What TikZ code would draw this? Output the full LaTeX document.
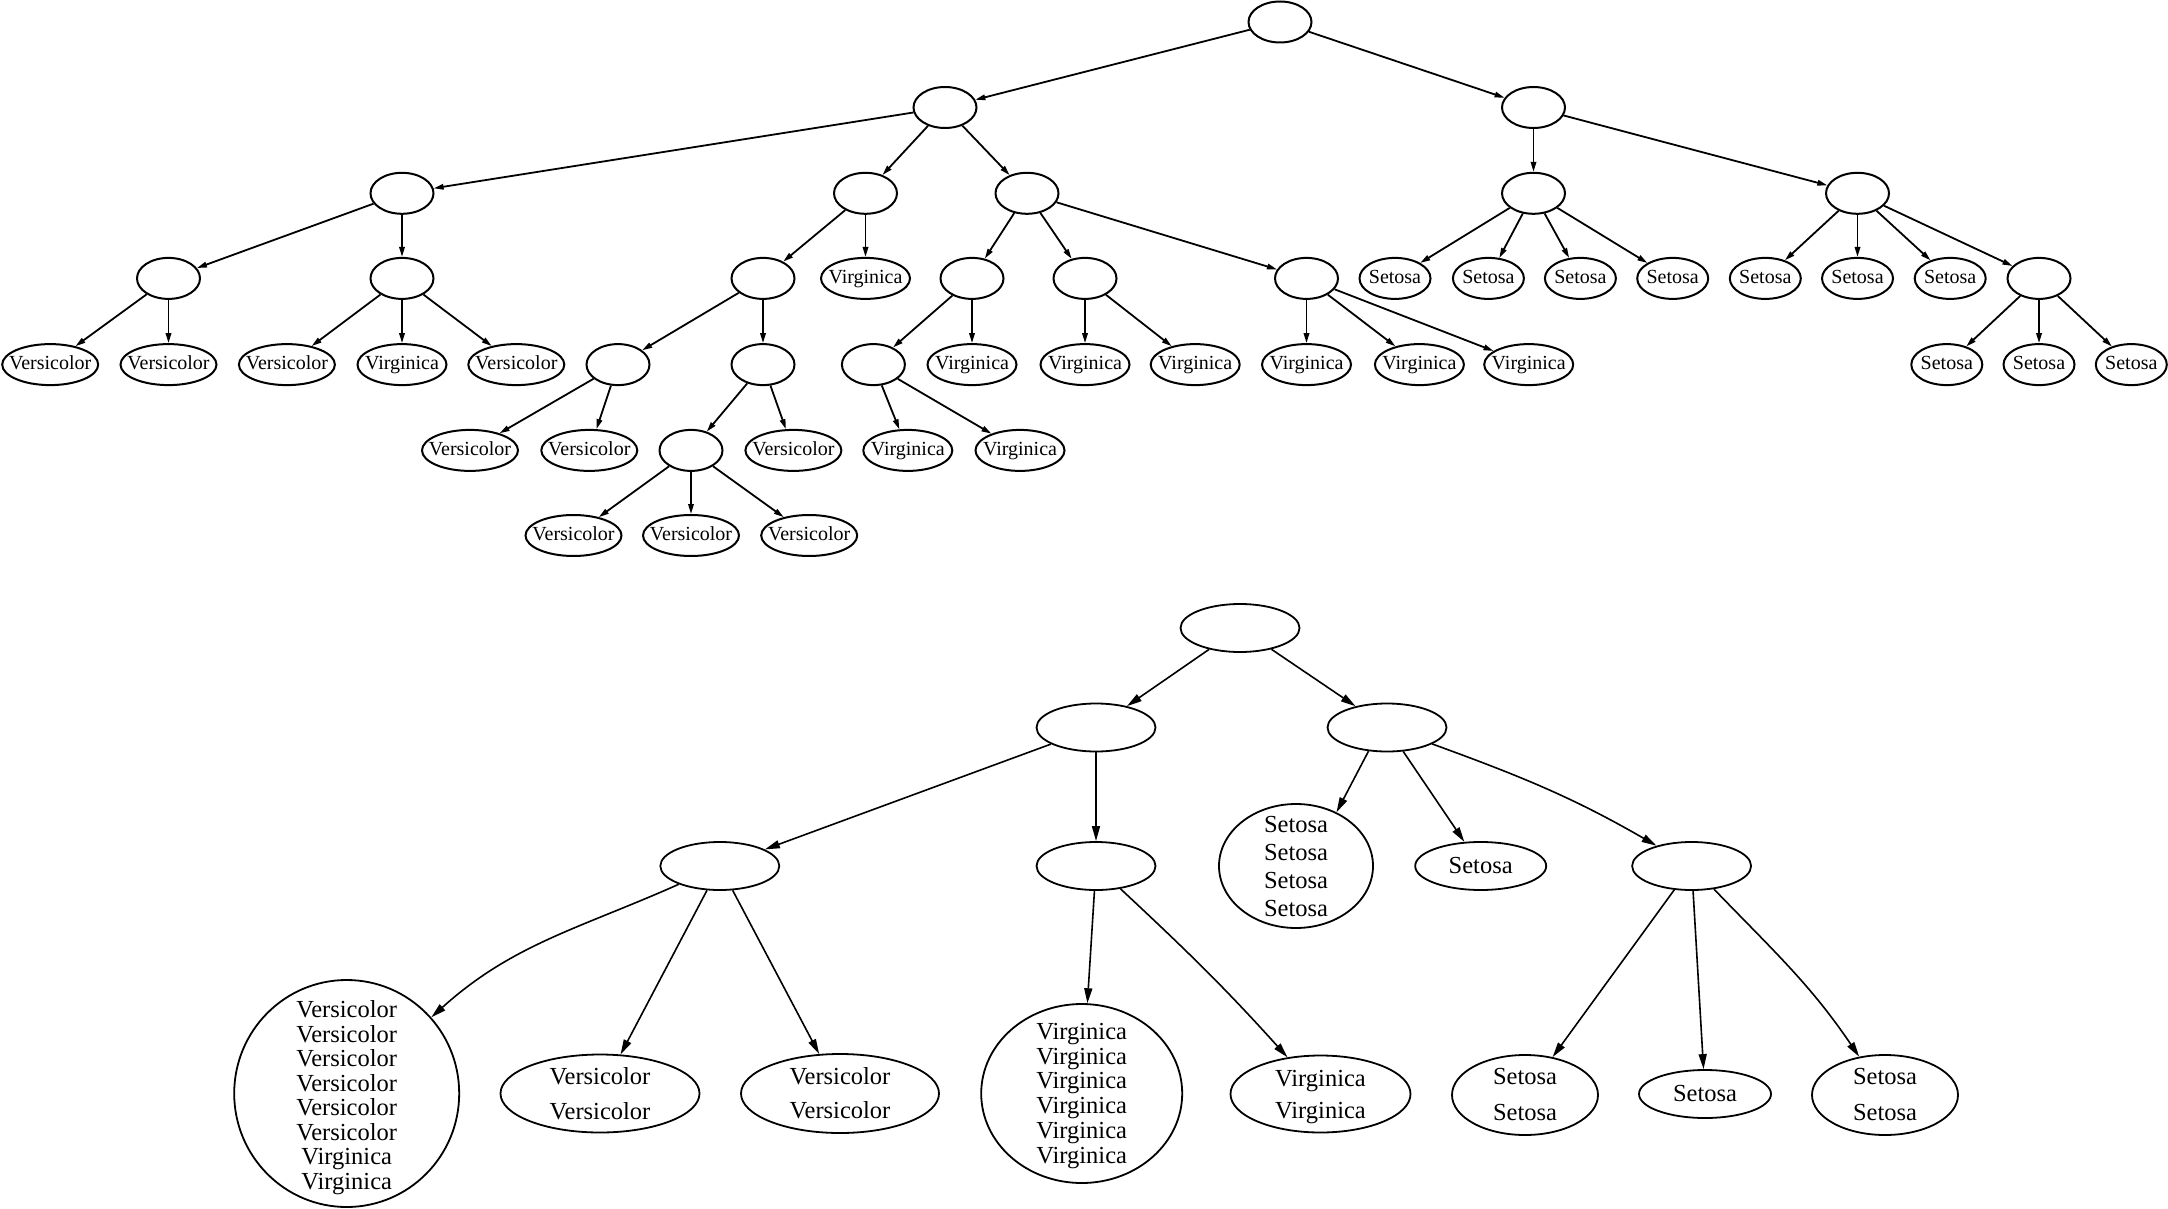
\documentclass[tikz,border=0pt]{standalone}
\usepackage{fontspec}
\setmainfont{Liberation Serif}
\usetikzlibrary{shapes.geometric,arrows.meta}
\newcommand\tx[3]{\raisebox{#1}{\makebox[0pt]{\vtop{\baselineskip=#2\relax\lineskiplimit=-100pt\halign{\hfil##\hfil\cr#3\crcr}}}}}
\newcommand\one[1]{\tx{-4.6pt}{24pt}{#1}}
\newcommand\bone[1]{\tx{-7pt}{29pt}{#1}}
\tikzset{
  topn/.style={ellipse, draw, line width=2pt, inner sep=0pt, text height=0pt, text depth=0pt,
    font=\fontsize{20}{24}\selectfont, minimum height=41pt},
  ti/.style={topn, minimum width=63pt},
  tvc/.style={topn, minimum width=96pt},
  tvg/.style={topn, minimum width=89pt},
  tse/.style={topn, minimum width=71pt},
  botn/.style={ellipse, draw, line width=1.8pt, inner sep=0pt, text height=0pt, text depth=0pt,
    font=\fontsize{24.5}{29}\selectfont},
  bi/.style={botn, minimum width=119pt, minimum height=48pt},
  tarr/.style={-{Triangle[length=10pt,width=5.5pt]}, line width=1.8pt},
  barr/.style={-{Triangle[length=15pt,width=8pt]}, line width=1.6pt},
}
\begin{document}
\begin{tikzpicture}[x=1pt,y=-1pt]
\useasboundingbox (0,0) rectangle (2168,1209);
% ---------------- top tree ----------------
\node[ti] (t0) at (1280,22) {};
\node[ti] (t1) at (945,107.5) {};
\node[ti] (t2) at (1533.5,107.5) {};
\node[ti] (tA) at (402,193.3) {};
\node[ti] (tB) at (865.5,193.3) {};
\node[ti] (tC) at (1027,193.3) {};
\node[ti] (tD) at (1533.5,193.3) {};
\node[ti] (tE) at (1857.5,193.3) {};
% level 3
\node[ti] (tA1) at (168.5,278.4) {};
\node[ti] (tA2) at (402,278.4) {};
\node[ti] (tB1) at (763,278.4) {};
\node[tvg] (tBv) at (865.5,278.4) {\one{Virginica}};
\node[ti] (tC1) at (972,278.4) {};
\node[ti] (tC2) at (1085,278.4) {};
\node[ti] (tC3) at (1306.5,278.4) {};
\node[tse] (tD1) at (1395,278.4) {\one{Setosa}};
\node[tse] (tD2) at (1488.4,278.4) {\one{Setosa}};
\node[tse] (tD3) at (1580.4,278.4) {\one{Setosa}};
\node[tse] (tD4) at (1672.7,278.4) {\one{Setosa}};
\node[tse] (tE1) at (1765.3,278.4) {\one{Setosa}};
\node[tse] (tE2) at (1857.5,278.4) {\one{Setosa}};
\node[tse] (tE3) at (1950.2,278.4) {\one{Setosa}};
\node[ti] (tE4) at (2039,278.4) {};
% level 4
\node[tvc] (tA1a) at (50.2,364.6) {\one{Versicolor}};
\node[tvc] (tA1b) at (168.5,364.6) {\one{Versicolor}};
\node[tvc] (tA2a) at (286.9,364.6) {\one{Versicolor}};
\node[tvg] (tA2b) at (402,364.6) {\one{Virginica}};
\node[tvc] (tA2c) at (516.3,364.6) {\one{Versicolor}};
\node[ti] (tB11) at (618,364.6) {};
\node[ti] (tB12) at (763,364.6) {};
\node[ti] (tC11) at (873.4,364.6) {};
\node[tvg] (tC1v) at (972,364.6) {\one{Virginica}};
\node[tvg] (tC2a) at (1085,364.6) {\one{Virginica}};
\node[tvg] (tC2b) at (1195.2,364.6) {\one{Virginica}};
\node[tvg] (tC3a) at (1306.5,364.6) {\one{Virginica}};
\node[tvg] (tC3b) at (1419.4,364.6) {\one{Virginica}};
\node[tvg] (tC3c) at (1528.7,364.6) {\one{Virginica}};
\node[tse] (tE4a) at (1946.8,364.6) {\one{Setosa}};
\node[tse] (tE4b) at (2039,364.6) {\one{Setosa}};
\node[tse] (tE4c) at (2131.3,364.6) {\one{Setosa}};
% level 5
\node[tvc] (tB11a) at (470,450.4) {\one{Versicolor}};
\node[tvc] (tB11b) at (589.3,450.4) {\one{Versicolor}};
\node[ti] (tB121) at (691,450.4) {};
\node[tvc] (tB12v) at (793.4,450.4) {\one{Versicolor}};
\node[tvg] (tC11a) at (907.8,450.4) {\one{Virginica}};
\node[tvg] (tC11b) at (1020,450.4) {\one{Virginica}};
% level 6
\node[tvc] (tL1) at (573.5,535.5) {\one{Versicolor}};
\node[tvc] (tL2) at (691,535.5) {\one{Versicolor}};
\node[tvc] (tL3) at (809.2,535.5) {\one{Versicolor}};
% top edges
\foreach \a/\b in {t0/t1,t0/t2,t1/tA,t1/tB,t1/tC,t2/tD,t2/tE,
  tA/tA1,tA/tA2,tB/tB1,tB/tBv,tC/tC1,tC/tC2,tC/tC3,
  tD/tD1,tD/tD2,tD/tD3,tD/tD4,tE/tE1,tE/tE2,tE/tE3,tE/tE4,
  tA1/tA1a,tA1/tA1b,tA2/tA2a,tA2/tA2b,tA2/tA2c,tB1/tB11,tB1/tB12,
  tC1/tC11,tC1/tC1v,tC2/tC2a,tC2/tC2b,tC3/tC3a,tC3/tC3b,tC3/tC3c,
  tE4/tE4a,tE4/tE4b,tE4/tE4c,tB11/tB11a,tB11/tB11b,tB12/tB121,tB12/tB12v,
  tC11/tC11a,tC11/tC11b,tB121/tL1,tB121/tL2,tB121/tL3}
  \draw[tarr] (\a) -- (\b);
% ---------------- bottom tree ----------------
\node[bi] (R) at (1240,628) {};
\node[bi] (P) at (1096,727.5) {};
\node[bi] (Q) at (1387,727.5) {};
\node[bi] (P1) at (719.8,866) {};
\node[bi] (P2) at (1096,866) {};
\node[botn, minimum width=154pt, minimum height=124pt] (S4) at (1296,866)
  {\tx{34pt}{28.3pt}{Setosa\cr Setosa\cr Setosa\cr Setosa}};
\node[botn, minimum width=131pt, minimum height=48pt] (S1) at (1480.7,866) {\bone{Setosa}};
\node[bi] (Q3) at (1691.6,866) {};
\node[botn, minimum width=225pt, minimum height=227pt] (Big) at (346.7,1093.5)
  {\tx{76pt}{24.5pt}{Versicolor\cr Versicolor\cr Versicolor\cr Versicolor\cr Versicolor\cr Versicolor\cr Virginica\cr Virginica}};
\node[botn, minimum width=199pt, minimum height=78pt] (V2a) at (600,1093.5)
  {\tx{9pt}{35pt}{Versicolor\cr Versicolor}};
\node[botn, minimum width=198pt, minimum height=79pt] (V2b) at (840,1093.5)
  {\tx{9pt}{34pt}{Versicolor\cr Versicolor}};
\node[botn, minimum width=201pt, minimum height=179pt] (V6) at (1081.7,1093.5)
  {\tx{54pt}{24.7pt}{Virginica\cr Virginica\cr Virginica\cr Virginica\cr Virginica\cr Virginica}};
\node[botn, minimum width=180pt, minimum height=77pt] (G2) at (1320.5,1094)
  {\tx{8pt}{32pt}{Virginica\cr Virginica}};
\node[botn, minimum width=146pt, minimum height=80pt] (T2a) at (1525,1095)
  {\tx{11pt}{36pt}{Setosa\cr Setosa}};
\node[botn, minimum width=132pt, minimum height=48pt] (T1) at (1705,1094) {\bone{Setosa}};
\node[botn, minimum width=146pt, minimum height=80pt] (T2b) at (1885,1095)
  {\tx{11pt}{36pt}{Setosa\cr Setosa}};
% bottom edges
\foreach \a/\b in {R/P,R/Q,P/P1,P/P2,Q/S1,P1/V2a,P1/V2b,P2/V6,Q3/T2a,Q3/T1}
  \draw[barr] (\a) -- (\b);
\draw[barr] (Q.232) -- (S4.53);
\draw[barr] (P1) to[out=204,in=42] (Big);
\draw[barr] (Q) to[out=-20,in=150] (Q3);
\draw[barr] (P2) to[out=-43,in=132] (G2);
\draw[barr] (Q3) to[out=-46,in=124] (T2b);
\end{tikzpicture}
\end{document}
